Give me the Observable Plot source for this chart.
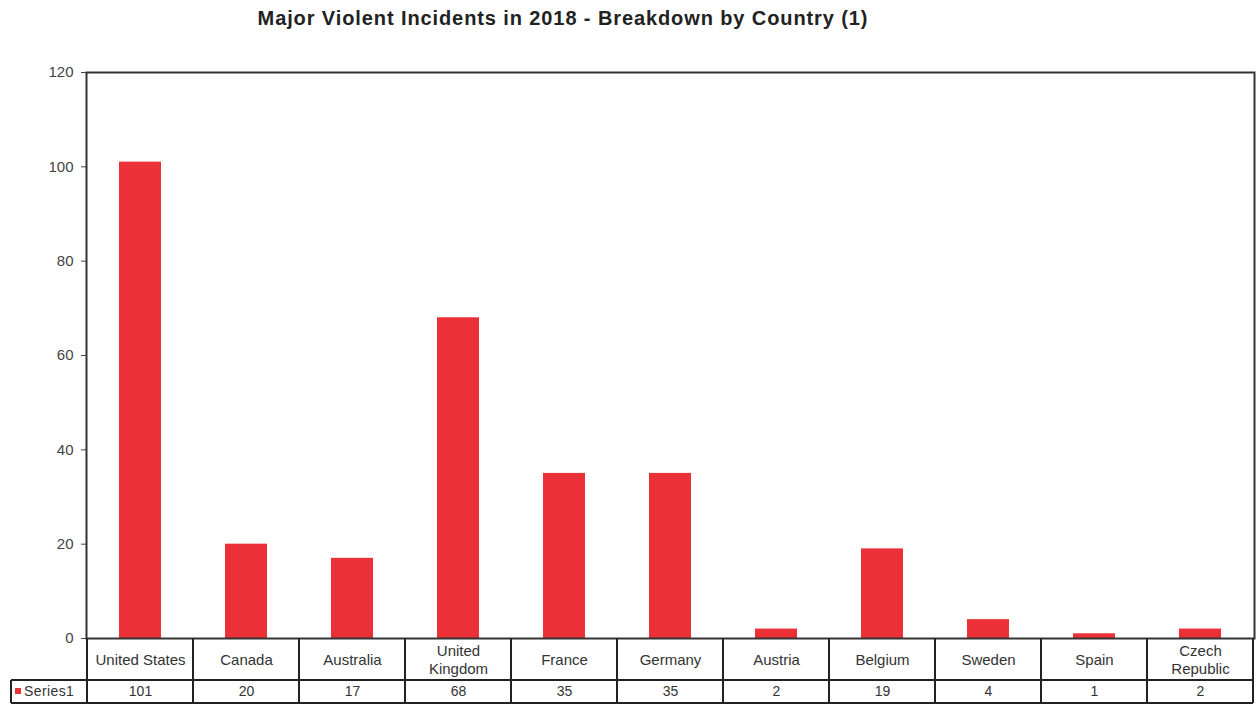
<!DOCTYPE html>
<html>
<head>
<meta charset="utf-8">
<script src="https://cdn.jsdelivr.net/npm/d3@7"></script>
<script src="https://cdn.jsdelivr.net/npm/@observablehq/plot@0.6"></script>
<style>
  html, body { margin: 0; padding: 0; background: #fff; }
  #wrap { position: relative; width: 1259px; height: 704px; font-family: "Liberation Sans", Arial, sans-serif; }
  #title { position: absolute; left: 200px; top: 7px; width: 726px; text-align: center; font-size: 20px; font-weight: bold; color: #222; white-space: nowrap; letter-spacing: 0.9px; }
</style>
</head>
<body>
<div id="wrap">
  <div id="title">Major Violent Incidents in 2018 - Breakdown by Country (1)</div>
</div>
<script>
const countries = ["United States", "Canada", "Australia", "United Kingdom", "France", "Germany", "Austria", "Belgium", "Sweden", "Spain", "Czech Republic"];
const tickLabels = ["United States", "Canada", "Australia", "United\nKingdom", "France", "Germany", "Austria", "Belgium", "Sweden", "Spain", "Czech\nRepublic"];
const incidents = [101, 20, 17, 68, 35, 35, 2, 19, 4, 1, 2];
const yTicks = [0, 20, 40, 60, 80, 100, 120];
const seriesName = "Series1";

const data = countries.map((c, i) => ({country: c, label: tickLabels[i], value: incidents[i]}));
const red = "#ec3037";
const font = "Liberation Sans, Arial, sans-serif";

const chart = Plot.plot({
  width: 1259,
  height: 704,
  marginLeft: 86,
  marginRight: 5,
  marginTop: 72,
  marginBottom: 66,
  style: {fontFamily: font, fontSize: "14px", color: "#333", background: "transparent", overflow: "visible"},
  x: {type: "band", domain: countries, padding: 0, axis: null},
  y: {domain: [0, 120], ticks: yTicks, label: null, tickSize: 5, tickPadding: 8},
  marks: [
    Plot.axisY({ticks: yTicks, tickSize: 5, tickPadding: 8, label: null, fontSize: 15, stroke: "#444", fill: "#444"}),
    Plot.barY(data, {x: "country", y: "value", fill: red, insetLeft: 32, insetRight: 32}),
    Plot.text(data, {x: "country", text: "label", frameAnchor: "bottom", lineAnchor: "middle", dy: 21, fontSize: 15, fill: "#333", lineHeight: 1.2}),
    Plot.text(data, {x: "country", text: d => String(d.value), frameAnchor: "bottom", lineAnchor: "middle", dy: 53, fontSize: 14, fill: "#333"}),
    Plot.frame({stroke: "#333", strokeWidth: 2})
  ]
});
document.getElementById("wrap").appendChild(chart);

// Data table grid drawn from the plot's x scale
const svg = d3.select(chart.tagName.toLowerCase() === "svg" ? chart : chart.querySelector("svg"));
const xs = chart.scale("x");
const bw = xs.bandwidth;
const y0 = 638, yMid = 680, yBot = 703, xLeft = 11;
const xEnd = xs.apply(countries[countries.length - 1]) + bw;
const g = svg.append("g").attr("stroke", "#222").attr("stroke-width", 2).attr("fill", "none");
countries.forEach(c => {
  const x = xs.apply(c);
  g.append("line").attr("x1", x).attr("x2", x).attr("y1", y0).attr("y2", yBot);
});
g.append("line").attr("x1", xEnd).attr("x2", xEnd).attr("y1", y0).attr("y2", yBot);
g.append("line").attr("x1", xLeft).attr("x2", xEnd).attr("y1", yMid).attr("y2", yMid);
g.append("line").attr("x1", xLeft).attr("x2", xEnd).attr("y1", yBot).attr("y2", yBot);
g.append("line").attr("x1", xLeft).attr("x2", xLeft).attr("y1", yMid).attr("y2", yBot);
svg.append("rect").attr("x", 15).attr("y", 688).attr("width", 6).attr("height", 6).attr("fill", red);
svg.append("text").attr("x", 24).attr("y", 691).attr("dy", "0.35em").attr("font-size", 14).attr("fill", "#333")
  .attr("text-anchor", "start").attr("letter-spacing", 0.4).text(seriesName);
</script>
</body>
</html>
